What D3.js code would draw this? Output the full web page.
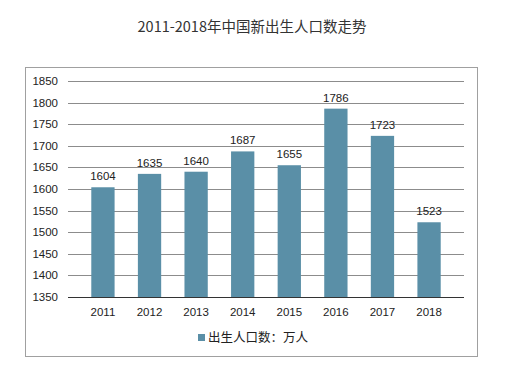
<!DOCTYPE html>
<html>
<head>
<meta charset="utf-8">
<script src="https://cdn.jsdelivr.net/npm/d3@7"></script>
<style>
  body { margin: 0; background: #fff; }
  text { font-family: "Liberation Sans", Arial, sans-serif; fill: #222; }
</style>
</head>
<body>
<svg id="chart" width="505" height="374"></svg>
<script>
// data
const years = ["2011", "2012", "2013", "2014", "2015", "2016", "2017", "2018"];
const births = [1604, 1635, 1640, 1687, 1655, 1786, 1723, 1523];
const yTicks = [1350, 1400, 1450, 1500, 1550, 1600, 1650, 1700, 1750, 1800, 1850];
const title = "2011-2018年中国新出生人口数走势";
const seriesName = "出生人口数：万人";

const svg = d3.select("#chart");
const barColor = "#5a8fa7";

// title
svg.append("text")
  .attr("x", 252).attr("y", 32)
  .attr("text-anchor", "middle")
  .style("font-family", "'Noto Sans CJK SC', 'DejaVu Sans', sans-serif")
  .style("font-size", "14.5px")
  .style("fill", "#333")
  .text(title);

// chart frame
svg.append("rect")
  .attr("x", 25.5).attr("y", 67.5)
  .attr("width", 452).attr("height", 289)
  .attr("fill", "none")
  .attr("stroke", "#a0a0a0");

const x = d3.scaleBand().domain(years).range([68, 464]).padding(0.5);
const y = d3.scaleLinear().domain([1350, 1850]).range([297, 81]);

// gridlines
svg.append("g").selectAll("line")
  .data(yTicks.slice(1))
  .join("line")
  .attr("x1", 68).attr("x2", 464)
  .attr("y1", d => Math.round(y(d)) + 0.5)
  .attr("y2", d => Math.round(y(d)) + 0.5)
  .attr("stroke", "#8c8c8c");

// y tick labels
svg.append("g").selectAll("text")
  .data(yTicks)
  .join("text")
  .attr("x", 58).attr("y", d => y(d) + 4)
  .attr("text-anchor", "end")
  .style("font-size", "11.5px")
  .text(d => d);

// bars
svg.append("g").selectAll("rect")
  .data(births)
  .join("rect")
  .attr("x", (d, i) => x(years[i]))
  .attr("width", x.bandwidth())
  .attr("y", d => y(d))
  .attr("height", d => y(1350) - y(d))
  .attr("fill", barColor);

// value labels
svg.append("g").selectAll("text")
  .data(births)
  .join("text")
  .attr("x", (d, i) => x(years[i]) + x.bandwidth() / 2)
  .attr("y", d => y(d) - 7)
  .attr("text-anchor", "middle")
  .style("font-size", "11.5px")
  .text(d => d);

// x axis line
svg.append("line")
  .attr("x1", 68).attr("x2", 464)
  .attr("y1", 297.5).attr("y2", 297.5)
  .attr("stroke", "#333");

// x labels
svg.append("g").selectAll("text")
  .data(years)
  .join("text")
  .attr("x", d => x(d) + x.bandwidth() / 2)
  .attr("y", 316)
  .attr("text-anchor", "middle")
  .style("font-size", "11.5px")
  .text(d => d);

// legend
svg.append("rect")
  .attr("x", 198).attr("y", 334)
  .attr("width", 7).attr("height", 7)
  .attr("fill", barColor);
svg.append("text")
  .attr("x", 208).attr("y", 342)
  .style("font-family", "'Noto Sans CJK SC', sans-serif")
  .style("font-size", "12.5px")
  .text(seriesName);
</script>
</body>
</html>
